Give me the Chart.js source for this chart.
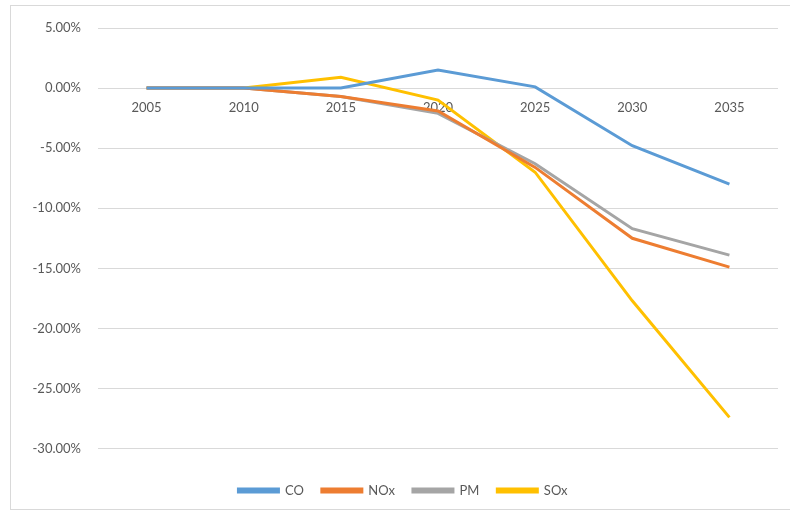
<!DOCTYPE html>
<html>
<head>
<meta charset="utf-8">
<script src="https://cdn.jsdelivr.net/npm/chart.js@4"></script>
<style>
    html, body { margin: 0; padding: 0; background: #fff; }
    #wrap { position: relative; width: 790px; height: 513px; overflow: hidden; }
    #frame { position: absolute; left: 10px; top: 5px; width: 800px; height: 503px; border: 1px solid #d9d9d9; }
    #chart { position: absolute; left: 0; top: 0; }
</style>
</head>
<body>
<div id="wrap">
    <div id="frame"></div>
    <canvas id="chart" width="790" height="513"></canvas>
</div>
<script>
// Chart data (percent change)
const years = ['2005', '2010', '2015', '2020', '2025', '2030', '2035'];
const coValues  = [0, 0, 0.0, 1.5, 0.1, -4.8, -8.0];
const noxValues = [0, 0, -0.7, -1.9, -6.6, -12.5, -14.9];
const pmValues  = [0, 0, -0.7, -2.1, -6.3, -11.7, -13.9];
const soxValues = [0, 0, 0.9, -1.0, -7.0, -17.7, -27.4];
const yTicks = [5, 0, -5, -10, -15, -20, -25, -30];

document.addEventListener('DOMContentLoaded', function() {
    const textColor = '#595959';
    const fontFamily = 'Lato, "Open Sans", sans-serif';

    function series(label, data, color) {
        return {
            label: label,
            data: data,
            borderColor: color,
            backgroundColor: color,
            borderWidth: 3,
            pointRadius: 0,
            tension: 0,
            fill: false
        };
    }

    const ctx = document.getElementById('chart').getContext('2d');
    new Chart(ctx, {
        type: 'line',
        data: {
            labels: years,
            datasets: [
                series('CO', coValues, '#5B9BD5'),
                series('NOx', noxValues, '#ED7D31'),
                series('PM', pmValues, '#A5A5A5'),
                series('SOx', soxValues, '#FFC000')
            ]
        },
        options: {
            responsive: false,
            animation: false,
            layout: {
                padding: { top: 28, right: 12, bottom: 6, left: 28 }
            },
            plugins: {
                tooltip: { enabled: false },
                legend: {
                    position: 'bottom',
                    // empty title only used as a spacer above the legend row
                    title: {
                        display: true,
                        text: ' ',
                        font: { size: 2 },
                        padding: { top: 15, bottom: 0 }
                    },
                    labels: {
                        boxWidth: 40,
                        boxHeight: 3,
                        padding: 18,
                        color: textColor,
                        font: { family: fontFamily, size: 13 }
                    }
                }
            },
            scales: {
                x: {
                    position: { y: 0 },
                    offset: true,
                    grid: { display: false, drawTicks: false, offset: true },
                    border: { display: false },
                    ticks: {
                        color: textColor,
                        padding: 12,
                        maxRotation: 0,
                        font: { family: fontFamily, size: 13 }
                    }
                },
                y: {
                    min: -30,
                    max: 5,
                    afterFit: function(scale) { scale.width = 70; },
                    afterBuildTicks: function(scale) {
                        scale.ticks = yTicks.map(v => ({ value: v }));
                    },
                    grid: { color: '#d9d9d9', lineWidth: 1, drawTicks: false },
                    border: { display: false },
                    ticks: {
                        color: textColor,
                        padding: 17,
                        font: { family: fontFamily, size: 13 },
                        callback: function(value) { return value.toFixed(2) + '%'; }
                    }
                }
            }
        }
    });
});
</script>
</body>
</html>
